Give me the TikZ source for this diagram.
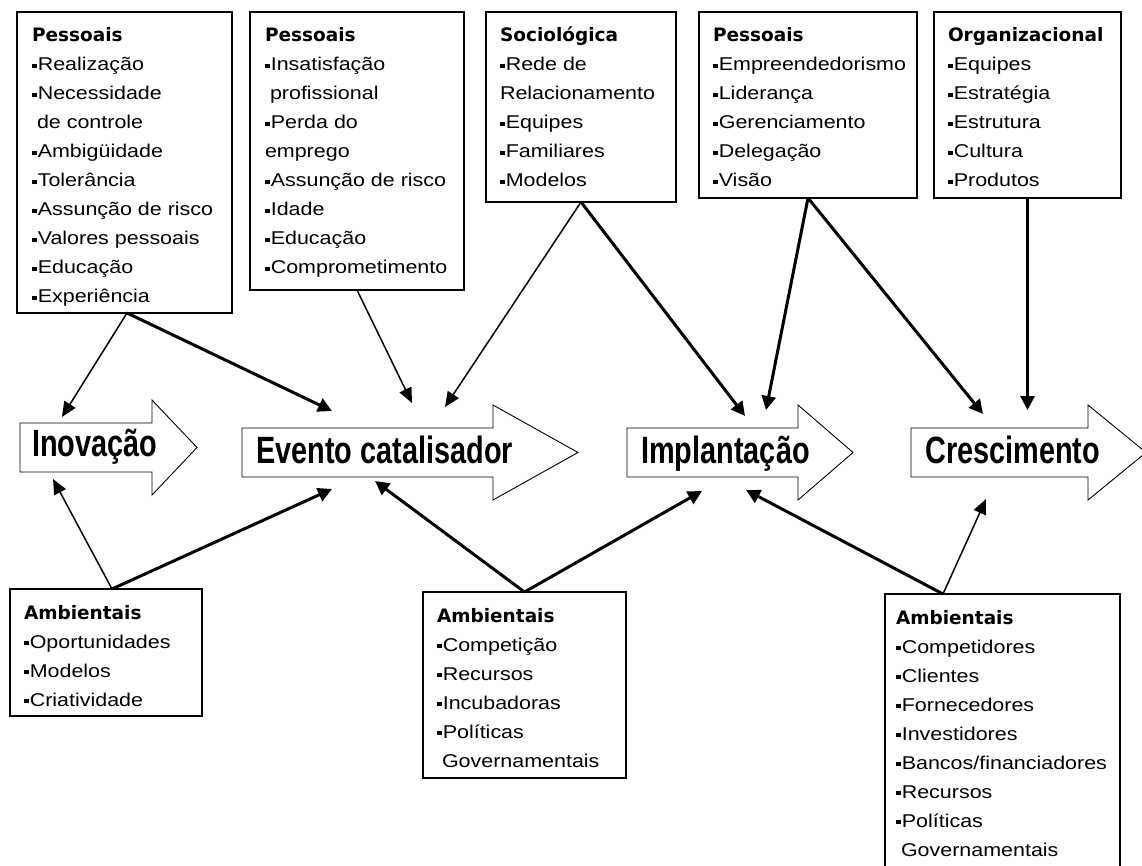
\documentclass[tikz,border=0pt]{standalone}
\usepackage{fontspec}
\usepackage{graphicx}
\setmainfont{Liberation Sans}[FakeStretch=1.16]
\newfontfamily\hdrfont{DejaVu Sans}
\newfontfamily\arrfont{Liberation Sans}[FakeStretch=0.76]
\usetikzlibrary{arrows.meta,calc}
\newcommand\bul{\rule[2.8pt]{4.6pt}{4.6pt}\hspace{1.2pt}}
\newcommand\hd[1]{{\hdrfont\bfseries #1}}
\newcommand\ind{\hspace*{5pt}}
\begin{document}
\begin{tikzpicture}[x=1pt,y=-1pt,
  box/.style={draw, line width=1.2pt, inner sep=0pt, outer sep=0pt, anchor=north west, fill=white},
  txt/.style={anchor=base west, inner sep=0pt, outer sep=0pt},
  bigarr/.style={draw, fill=white, line width=0.9pt, line join=miter},
  biglabel/.style={anchor=base west, inner sep=0pt, font=\arrfont\bfseries\fontsize{38}{40}\selectfont},
  thinarrow/.style={line width=1.5pt, -{Triangle[length=15pt,width=13pt]}},
  thickarrow/.style={line width=3pt, -{Triangle[length=14pt,width=14pt]}}
]
\fill[white] (0,0) rectangle (1142,866);
\useasboundingbox (0,0) rectangle (1142,866);

% ---------- top boxes ----------
\node[box, minimum width=215pt, minimum height=301pt] (b1) at (17,12) {};
\node[txt] (t1) at ($(b1.north west)+(15,30)$) {\parbox[t]{200pt}{\fontsize{18.5}{29}\selectfont
\hd{Pessoais}\\
\bul Realização\\
\bul Necessidade\\
\ind de controle\\
\bul Ambigüidade\\
\bul Tolerância\\
\bul Assunção de risco\\
\bul Valores pessoais\\
\bul Educação\\
\bul Experiência}};

\node[box, minimum width=214pt, minimum height=278pt] (b2) at (250,12) {};
\node[txt] (t2) at ($(b2.north west)+(15,30)$) {\parbox[t]{200pt}{\fontsize{18.5}{29}\selectfont
\hd{Pessoais}\\
\bul Insatisfação\\
\ind profissional\\
\bul Perda do\\
emprego\\
\bul Assunção de risco\\
\bul Idade\\
\bul Educação\\
\bul Comprometimento}};

\node[box, minimum width=190pt, minimum height=190pt] (b3) at (486,12) {};
\node[txt] (t3) at ($(b3.north west)+(14,30)$) {\parbox[t]{180pt}{\fontsize{18.5}{29}\selectfont
\hd{Sociológica}\\
\bul Rede de\\
Relacionamento\\
\bul Equipes\\
\bul Familiares\\
\bul Modelos}};

\node[box, minimum width=218pt, minimum height=186pt] (b4) at (699,12) {};
\node[txt] (t4) at ($(b4.north west)+(14,30)$) {\parbox[t]{205pt}{\fontsize{18.5}{29}\selectfont
\hd{Pessoais}\\
\bul Empreendedorismo\\
\bul Liderança\\
\bul Gerenciamento\\
\bul Delegação\\
\bul Visão}};

\node[box, minimum width=187pt, minimum height=186pt] (b5) at (934,12) {};
\node[txt] (t5) at ($(b5.north west)+(14,30)$) {\parbox[t]{175pt}{\fontsize{18.5}{29}\selectfont
\hd{Organizacional}\\
\bul Equipes\\
\bul Estratégia\\
\bul Estrutura\\
\bul Cultura\\
\bul Produtos}};

% ---------- bottom boxes ----------
\node[box, minimum width=192pt, minimum height=127pt] (a1) at (10,589) {};
\node[txt] (s1) at ($(a1.north west)+(14,30)$) {\parbox[t]{180pt}{\fontsize{18.5}{29}\selectfont
\hd{Ambientais}\\
\bul Oportunidades\\
\bul Modelos\\
\bul Criatividade}};

\node[box, minimum width=203pt, minimum height=186pt] (a2) at (423,592) {};
\node[txt] (s2) at ($(a2.north west)+(14,30)$) {\parbox[t]{190pt}{\fontsize{18.5}{29}\selectfont
\hd{Ambientais}\\
\bul Competição\\
\bul Recursos\\
\bul Incubadoras\\
\bul Políticas\\
\ind Governamentais}};

\node[box, minimum width=235pt, minimum height=280pt] (a3) at (885,594) {};
\node[txt] (s3) at ($(a3.north west)+(11,30)$) {\parbox[t]{225pt}{\fontsize{18.5}{29}\selectfont
\hd{Ambientais}\\
\bul Competidores\\
\bul Clientes\\
\bul Fornecedores\\
\bul Investidores\\
\bul Bancos/financiadores\\
\bul Recursos\\
\bul Políticas\\
\ind Governamentais}};

% ---------- big arrows ----------
\draw[bigarr] (20,423) -- (152,423) -- (152,400) -- (197,447.5) -- (152,495) -- (152,472) -- (20,472) -- cycle;
\node[biglabel] (inov) at (32,456) {Inovação};

\draw[bigarr] (242,428) -- (493,428) -- (493,405) -- (578,452.5) -- (493,500) -- (493,477) -- (242,477) -- cycle;
\node[biglabel] (evento) at (256,463) {Evento catalisador};

\draw[bigarr] (627,428) -- (798,428) -- (798,405) -- (853,452.5) -- (798,500) -- (798,477) -- (627,477) -- cycle;
\node[biglabel] (impl) at (641,463) {Implantação};

\draw[bigarr] (911,428) -- (1088,428) -- (1088,405) -- (1146,452.5) -- (1088,500) -- (1088,477) -- (911,477) -- cycle;
\node[biglabel] (cresc) at (925,463) {Crescimento};

% ---------- connector end points ----------
\coordinate (e1) at (62,417);
\coordinate (e2) at (332,411);
\coordinate (e3) at (412,403);
\coordinate (e4) at (445,407);
\coordinate (e5) at (745,416);
\coordinate (e6) at (766,410);
\coordinate (e7) at (983,414);
\coordinate (e8) at (1027.5,410);
\coordinate (f1) at (53,479);
\coordinate (f2) at (332,489);
\coordinate (f3) at (375,481);
\coordinate (f4) at (702,491);
\coordinate (f5) at (746,490);
\coordinate (f6) at (986,499);

\coordinate (o1) at ($(b1.south west)+(110,0)$);
\coordinate (o9) at ($(a1.north west)+(102,0)$);
\coordinate (o13) at ($(a3.north west)+(58,0)$);

% ---------- connectors ----------
\draw[thinarrow] (o1) -- (e1);
\draw[thickarrow] (o1) -- (e2);
\draw[thinarrow] (b2.south) -- (e3);
\draw[thinarrow] (b3.south) -- (e4);
\draw[thickarrow] (b3.south) -- (e5);
\draw[thickarrow] (b4.south) -- (e6);
\draw[thickarrow] (b4.south) -- (e7);
\draw[thickarrow] (b5.south) -- (e8);
\draw[thinarrow] (o9) -- (f1);
\draw[thickarrow] (o9) -- (f2);
\draw[thickarrow] (a2.north) -- (f3);
\draw[thickarrow] (a2.north) -- (f4);
\draw[thickarrow] (o13) -- (f5);
\draw[thinarrow] (o13) -- (f6);
\end{tikzpicture}
\end{document}
